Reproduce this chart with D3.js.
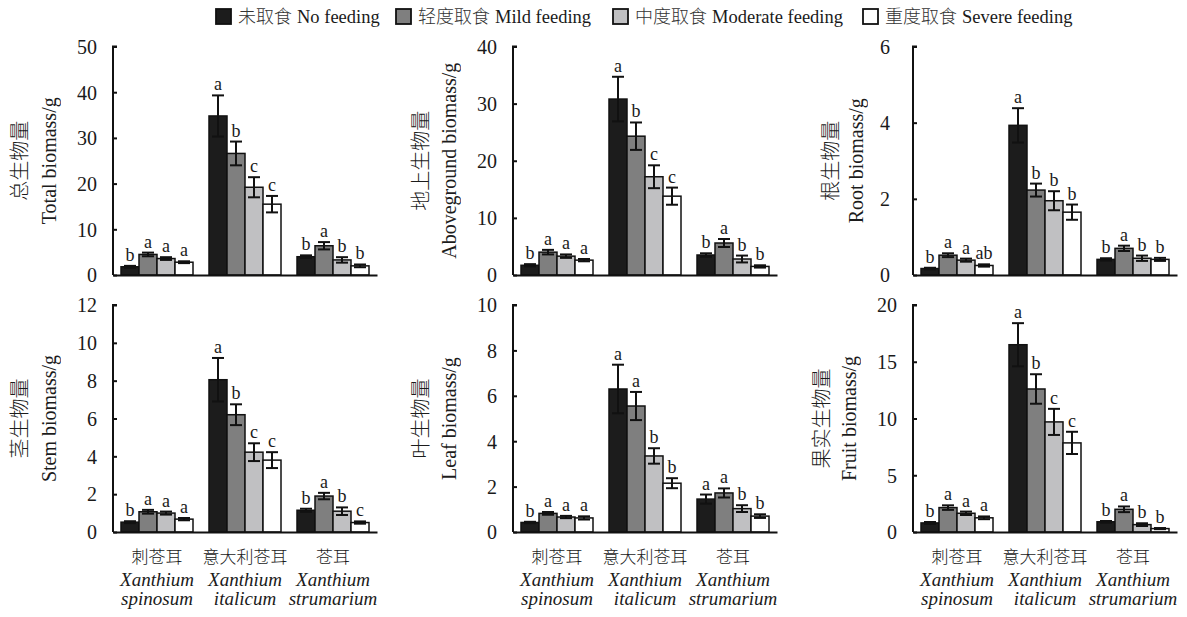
<!DOCTYPE html>
<html><head><meta charset="utf-8">
<script src="https://cdn.jsdelivr.net/npm/d3@7"></script>
<style>
body{margin:0;background:#fff;}
text{font-family:"Liberation Serif","Times New Roman","Noto Sans CJK SC",serif;fill:#1a1a1a;}
.rot{opacity:0.99;}
</style></head>
<body><svg id="chart" width="1187" height="617"></svg>
<script>
// ---------- data ----------
const categories = ["刺苍耳", "意大利苍耳", "苍耳"];
const genus = ["Xanthium", "Xanthium", "Xanthium"];
const species = ["spinosum", "italicum", "strumarium"];
const treatments = ["未取食 No feeding", "轻度取食 Mild feeding", "中度取食 Moderate feeding", "重度取食 Severe feeding"];

const totalMean = [[1.8, 4.5, 3.6, 2.8], [34.8, 26.6, 19.2, 15.5], [4.0, 6.4, 3.3, 2.0]];
const totalErr  = [[0.2, 0.4, 0.3, 0.2], [4.5, 2.6, 2.2, 1.8], [0.3, 0.8, 0.6, 0.3]];
const totalSig  = [["b","a","a","a"], ["a","b","c","c"], ["b","a","b","b"]];

const aboveMean = [[1.7, 4.0, 3.3, 2.6], [30.8, 24.3, 17.2, 13.8], [3.5, 5.6, 2.8, 1.5]];
const aboveErr  = [[0.2, 0.4, 0.3, 0.2], [3.9, 2.4, 2.0, 1.5], [0.3, 0.7, 0.6, 0.2]];
const aboveSig  = [["b","a","a","a"], ["a","b","c","c"], ["b","a","b","b"]];

const rootMean = [[0.17, 0.52, 0.39, 0.25], [3.93, 2.23, 1.95, 1.65], [0.41, 0.70, 0.44, 0.41]];
const rootErr  = [[0.02, 0.05, 0.04, 0.03], [0.45, 0.17, 0.25, 0.20], [0.03, 0.07, 0.07, 0.04]];
const rootSig  = [["b","a","a","ab"], ["a","b","b","b"], ["b","a","b","b"]];

const stemMean = [[0.52, 1.07, 1.0, 0.68], [8.05, 6.2, 4.22, 3.8], [1.15, 1.9, 1.1, 0.5]];
const stemErr  = [[0.05, 0.1, 0.08, 0.06], [1.15, 0.55, 0.47, 0.42], [0.08, 0.17, 0.2, 0.06]];
const stemSig  = [["b","a","a","a"], ["a","b","c","c"], ["b","a","b","c"]];

const leafMean = [[0.42, 0.82, 0.66, 0.62], [6.3, 5.55, 3.35, 2.15], [1.45, 1.72, 1.03, 0.7]];
const leafErr  = [[0.03, 0.06, 0.05, 0.07], [1.07, 0.62, 0.34, 0.22], [0.2, 0.2, 0.15, 0.08]];
const leafSig  = [["b","a","a","a"], ["a","a","b","b"], ["a","a","b","b"]];

const fruitMean = [[0.8, 2.15, 1.65, 1.25], [16.5, 12.6, 9.7, 7.85], [0.9, 2.0, 0.65, 0.3]];
const fruitErr  = [[0.08, 0.2, 0.15, 0.12], [1.9, 1.3, 1.15, 0.98], [0.07, 0.25, 0.12, 0.05]];
const fruitSig  = [["b","a","a","a"], ["a","b","c","c"], ["b","a","b","b"]];

const totalTicks = [0, 10, 20, 30, 40, 50];
const aboveTicks = [0, 10, 20, 30, 40];
const rootTicks  = [0, 2, 4, 6];
const stemTicks  = [0, 2, 4, 6, 8, 10, 12];
const leafTicks  = [0, 2, 4, 6, 8, 10];
const fruitTicks = [0, 5, 10, 15, 20];

const labelsCN = ["总生物量", "地上生物量", "根生物量", "茎生物量", "叶生物量", "果实生物量"];
const labelsEN = ["Total biomass/g", "Aboveground biomass/g", "Root biomass/g", "Stem biomass/g", "Leaf biomass/g", "Fruit biomass/g"];

// ---------- layout ----------
const colors = ["#1c1c1c", "#7f7f7f", "#c0c0c2", "#ffffff"];
const legendX = [215, 395, 612, 862];
const panels = [
  {mean: totalMean, err: totalErr, sig: totalSig, ticks: totalTicks, x: 113, top: 46.5, bottom: 275, cnOff: 93, enOff: 64, tickGap: 16, cats: false},
  {mean: aboveMean, err: aboveErr, sig: aboveSig, ticks: aboveTicks, x: 513, top: 46.5, bottom: 275, cnOff: 92, enOff: 64, tickGap: 16, cats: false},
  {mean: rootMean,  err: rootErr,  sig: rootSig,  ticks: rootTicks,  x: 913, top: 46.5, bottom: 275, cnOff: 82, enOff: 57, tickGap: 23, cats: false},
  {mean: stemMean,  err: stemErr,  sig: stemSig,  ticks: stemTicks,  x: 113, top: 305, bottom: 532, cnOff: 93, enOff: 64, tickGap: 16, cats: true},
  {mean: leafMean,  err: leafErr,  sig: leafSig,  ticks: leafTicks,  x: 513, top: 305, bottom: 532, cnOff: 92, enOff: 64, tickGap: 16, cats: true},
  {mean: fruitMean, err: fruitErr, sig: fruitSig, ticks: fruitTicks, x: 913, top: 305, bottom: 532, cnOff: 91, enOff: 64, tickGap: 16, cats: true}
];
const W = 264;

const svg = d3.select("#chart");

panels.forEach((p, pi) => {
  const g = svg.append("g");
  const x0 = d3.scaleBand().domain(categories).range([p.x, p.x + W]).paddingInner(16/88).paddingOuter(8/88);
  const x1 = d3.scaleBand().domain(treatments).range([0, x0.bandwidth()]);
  const y = d3.scaleLinear().domain([0, d3.max(p.ticks)]).range([p.bottom, p.top]);

  // bars
  categories.forEach((c, ci) => {
    treatments.forEach((t, ti) => {
      const v = p.mean[ci][ti], e = p.err[ci][ti];
      const bx = x0(c) + x1(t);
      const bw = x1.bandwidth();
      g.append("rect")
        .attr("x", bx).attr("y", y(v))
        .attr("width", bw).attr("height", y(0) - y(v))
        .attr("fill", colors[ti]).attr("stroke", "#111").attr("stroke-width", 1.5);
      const cx = bx + bw / 2;
      const cap = 6;
      const eg = g.append("g").attr("stroke", "#111").attr("stroke-width", 2);
      eg.append("line").attr("x1", cx).attr("x2", cx).attr("y1", y(v - e)).attr("y2", y(v + e));
      eg.append("line").attr("x1", cx - cap).attr("x2", cx + cap).attr("y1", y(v + e)).attr("y2", y(v + e));
      eg.append("line").attr("x1", cx - cap).attr("x2", cx + cap).attr("y1", y(v - e)).attr("y2", y(v - e));
      g.append("text").attr("x", cx).attr("y", y(v + e) - 5)
        .attr("text-anchor", "middle").attr("font-size", 18)
        .text(p.sig[ci][ti]);
    });
  });

  // y axis
  const ya = d3.axisRight(y).tickValues(p.ticks).tickSize(4).tickFormat(d3.format("d"));
  const yg = g.append("g").attr("transform", `translate(${p.x},0)`).call(ya);
  yg.select(".domain").attr("stroke", "#111").attr("stroke-width", 2).attr("d", `M4,${p.top}H0V${p.bottom}`);
  yg.selectAll(".tick line").attr("stroke", "#111").attr("stroke-width", 2);
  yg.selectAll(".tick text").attr("x", -p.tickGap).attr("text-anchor", "end")
    .attr("font-size", 20).attr("fill", "#1a1a1a").attr("dy", "0.34em")
    .style("font-family", '"Liberation Serif", serif');

  // x axis line
  const xa = d3.axisBottom(x0).tickSize(0).tickFormat("");
  const xg = g.append("g").attr("transform", `translate(0,${p.bottom})`).call(xa);
  xg.select(".domain").attr("stroke", "#111").attr("stroke-width", 2);

  if (p.cats) {
    categories.forEach((c, ci) => {
      const cx = x0(c) + x0.bandwidth() / 2;
      g.append("text").attr("x", cx).attr("y", p.bottom + 31).attr("text-anchor", "middle")
        .attr("font-size", 17).attr("fill", "#333").style("font-family", '"Noto Sans CJK SC", sans-serif').style("font-weight", 300).text(c);
      g.append("text").attr("x", cx).attr("y", p.bottom + 54).attr("text-anchor", "middle")
        .attr("font-size", 19).attr("font-style", "italic").text(genus[ci]);
      g.append("text").attr("x", cx).attr("y", p.bottom + 73).attr("text-anchor", "middle")
        .attr("font-size", 19).attr("font-style", "italic").text(species[ci]);
    });
  }

  // y labels
  const my = (p.top + p.bottom) / 2;
  g.append("text").attr("class", "rot").attr("transform", `translate(${p.x - p.cnOff},${my}) rotate(-90)`)
    .attr("text-anchor", "middle").attr("dy", "0.35em").attr("font-size", 20)
    .style("font-family", '"Noto Sans CJK SC", sans-serif').style("font-weight", 300).attr("fill", "#444")
    .text(labelsCN[pi]);
  g.append("text").attr("class", "rot").attr("transform", `translate(${p.x - p.enOff},${my}) rotate(-90)`)
    .attr("text-anchor", "middle").attr("dy", "0.35em").attr("font-size", 20)
    .text(labelsEN[pi]);
});

// legend
const leg = svg.append("g");
treatments.forEach((t, i) => {
  const lx = legendX[i];
  leg.append("rect").attr("x", lx + 1).attr("y", 9).attr("width", 15).attr("height", 15)
    .attr("fill", colors[i]).attr("stroke", "#111").attr("stroke-width", 1.8);
  const parts = t.split(" ");
  const cn = parts[0], en = parts.slice(1).join(" ");
  const tx = leg.append("text").attr("x", lx + 23).attr("y", 23).attr("font-size", 18.5);
  tx.append("tspan").style("font-family", '"Noto Sans CJK SC", sans-serif').style("font-weight", 300).attr("fill", "#333").attr("font-size", 18).text(cn);
  tx.append("tspan").attr("dx", 5).text(en);
});
</script></body></html>
